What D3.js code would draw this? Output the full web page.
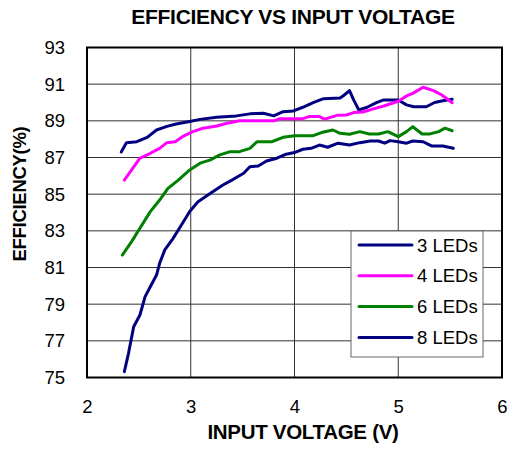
<!DOCTYPE html>
<html lang="en">
<head>
  <meta charset="UTF-8">
  <title>Efficiency vs Input Voltage</title>
  <script src="https://cdn.jsdelivr.net/npm/d3@7"></script>
  <style>
    body { margin: 0; background: #fff; }
    svg { display: block; font-family: "Liberation Sans", Arial, sans-serif; }
  </style>
</head>
<body>
  <div id="chart"></div>
  <script>
    const yTicks = [75, 77, 79, 81, 83, 85, 87, 89, 91, 93]
    const xTicks = [2, 3, 4, 5, 6]
    const seriesNames = ["3 LEDs", "4 LEDs", "6 LEDs", "8 LEDs"]
    const seriesColors = ["#000080", "#ff00ff", "#008000", "#000080"]

    // [voltage, efficiency]
    const led3 = [
      [2.33, 87.3], [2.38, 87.8], [2.48, 87.86], [2.58, 88.1], [2.67, 88.5], [2.77, 88.7],
      [2.86, 88.83], [2.99, 88.96], [3.09, 89.08], [3.25, 89.2], [3.44, 89.27], [3.57, 89.38],
      [3.70, 89.41], [3.80, 89.27], [3.89, 89.5], [3.99, 89.54], [4.08, 89.74], [4.18, 89.99],
      [4.28, 90.21], [4.44, 90.25], [4.48, 90.41], [4.53, 90.65], [4.57, 90.14], [4.62, 89.59],
      [4.70, 89.74], [4.79, 89.99], [4.86, 90.14], [5.0, 90.14], [5.08, 89.87], [5.15, 89.77],
      [5.27, 89.77], [5.35, 90.0], [5.43, 90.1], [5.52, 90.18]
    ]
    const led4 = [
      [2.36, 85.77], [2.43, 86.32], [2.51, 86.96], [2.61, 87.23], [2.70, 87.5], [2.77, 87.81],
      [2.85, 87.86], [2.93, 88.17], [3.02, 88.41], [3.12, 88.6], [3.25, 88.72], [3.35, 88.87],
      [3.47, 89.0], [3.80, 89.0], [3.86, 89.12], [4.08, 89.12], [4.14, 89.23], [4.24, 89.23],
      [4.29, 89.09], [4.41, 89.3], [4.50, 89.32], [4.57, 89.45], [4.66, 89.48], [4.76, 89.65],
      [4.86, 89.81], [5.0, 90.07], [5.08, 90.36], [5.14, 90.5], [5.24, 90.83], [5.34, 90.65],
      [5.42, 90.41], [5.52, 89.99]
    ]
    const led6 = [
      [2.34, 81.68], [2.43, 82.41], [2.51, 83.14], [2.61, 84.05], [2.70, 84.68], [2.78, 85.32],
      [2.88, 85.77], [2.99, 86.32], [3.09, 86.69], [3.19, 86.87], [3.28, 87.14], [3.38, 87.32],
      [3.47, 87.32], [3.57, 87.5], [3.64, 87.86], [3.78, 87.86], [3.89, 88.1], [4.0, 88.19],
      [4.18, 88.19], [4.26, 88.36], [4.37, 88.5], [4.44, 88.32], [4.53, 88.27], [4.63, 88.41],
      [4.72, 88.28], [4.81, 88.28], [4.90, 88.41], [5.0, 88.14], [5.08, 88.41], [5.14, 88.68],
      [5.23, 88.28], [5.30, 88.28], [5.39, 88.41], [5.45, 88.6], [5.52, 88.46]
    ]
    const led8 = [
      [2.36, 75.32], [2.40, 76.32], [2.45, 77.77], [2.51, 78.41], [2.56, 79.41], [2.61, 79.95],
      [2.67, 80.59], [2.70, 81.23], [2.75, 81.96], [2.83, 82.59], [2.91, 83.32], [2.99, 84.05],
      [3.07, 84.59], [3.19, 85.05], [3.31, 85.5], [3.41, 85.81], [3.51, 86.14], [3.57, 86.5],
      [3.65, 86.54], [3.73, 86.81], [3.83, 86.96], [3.92, 87.18], [4.0, 87.27], [4.08, 87.45],
      [4.16, 87.5], [4.24, 87.68], [4.32, 87.56], [4.42, 87.78], [4.53, 87.68], [4.63, 87.81],
      [4.73, 87.9], [4.81, 87.9], [4.87, 87.78], [4.92, 87.92], [5.0, 87.86], [5.08, 87.78],
      [5.14, 87.9], [5.24, 87.86], [5.32, 87.63], [5.43, 87.63], [5.53, 87.5]
    ]
    const allSeries = [led3, led4, led6, led8]

    const width = 509
    const height = 449
    const plotLeft = 87, plotRight = 502, plotTop = 47.5, plotBottom = 377.5

    const svg = d3.select("#chart")
      .append("svg")
      .attr("width", width)
      .attr("height", height)

    const x = d3.scaleLinear().domain([2, 6]).range([plotLeft, plotRight])
    const y = d3.scaleLinear().domain([75, 93]).range([plotBottom, plotTop])

    // grid
    svg.append("g")
      .selectAll("line")
      .data(yTicks.slice(1, -1))
      .enter()
      .append("line")
      .attr("x1", plotLeft).attr("x2", plotRight)
      .attr("y1", d => y(d)).attr("y2", d => y(d))
      .attr("stroke", "#333").attr("stroke-width", 1)

    svg.append("g")
      .selectAll("line")
      .data(xTicks.slice(1, -1))
      .enter()
      .append("line")
      .attr("y1", plotTop).attr("y2", plotBottom)
      .attr("x1", d => x(d)).attr("x2", d => x(d))
      .attr("stroke", "#333").attr("stroke-width", 1)

    svg.append("rect")
      .attr("x", plotLeft).attr("y", plotTop)
      .attr("width", plotRight - plotLeft).attr("height", plotBottom - plotTop)
      .attr("fill", "none").attr("stroke", "#000").attr("stroke-width", 2)

    // axes (labels only)
    const xAxis = d3.axisBottom(x).tickValues(xTicks).tickFormat(d3.format("d")).tickSize(0).tickPadding(22)
    svg.append("g")
      .attr("transform", `translate(0, ${plotBottom})`)
      .call(xAxis)
      .call(g => g.select(".domain").remove())
      .selectAll("text")
      .attr("font-size", 18.5).attr("font-family", "Liberation Sans, Arial, sans-serif").attr("fill", "#000")

    const yAxis = d3.axisLeft(y).tickValues(yTicks).tickSize(0).tickPadding(22)
    svg.append("g")
      .attr("transform", `translate(${plotLeft}, 0)`)
      .call(yAxis)
      .call(g => g.select(".domain").remove())
      .selectAll("text")
      .attr("font-size", 18.5).attr("font-family", "Liberation Sans, Arial, sans-serif").attr("fill", "#000")

    // lines
    const line = d3.line().x(d => x(d[0])).y(d => y(d[1]))
    svg.append("g")
      .selectAll("path")
      .data(allSeries)
      .enter()
      .append("path")
      .attr("d", line)
      .attr("fill", "none")
      .attr("stroke", (_, i) => seriesColors[i])
      .attr("stroke-width", 3)
      .attr("stroke-linejoin", "round")
      .attr("stroke-linecap", "round")

    // titles
    svg.append("text")
      .attr("x", 293).attr("y", 24)
      .attr("text-anchor", "middle")
      .attr("font-weight", "bold").attr("font-size", 21)
      .attr("letter-spacing", -0.3)
      .text("EFFICIENCY VS INPUT VOLTAGE")

    svg.append("text")
      .attr("x", 303).attr("y", 439)
      .attr("text-anchor", "middle")
      .attr("font-weight", "bold").attr("font-size", 20.5)
      .attr("letter-spacing", -0.3)
      .text("INPUT VOLTAGE (V)")

    svg.append("text")
      .attr("transform", "translate(26, 194) rotate(-90)")
      .attr("text-anchor", "middle")
      .attr("font-weight", "bold").attr("font-size", 18.5)
      .attr("letter-spacing", -0.3)
      .text("EFFICIENCY(%)")

    // legend
    const legend = svg.append("g").attr("id", "legend")
    legend.append("rect")
      .attr("x", 351).attr("y", 231)
      .attr("width", 132).attr("height", 126)
      .attr("fill", "#fff").attr("stroke", "#666").attr("stroke-width", 1)

    const items = legend.selectAll("g")
      .data(seriesNames)
      .enter()
      .append("g")
      .attr("transform", (_, i) => `translate(0, ${245 + i * 30.8})`)

    items.append("line")
      .attr("x1", 359).attr("x2", 412)
      .attr("y1", 0).attr("y2", 0)
      .attr("stroke", (_, i) => seriesColors[i])
      .attr("stroke-width", 3)
      .attr("stroke-linecap", "round")

    items.append("text")
      .attr("x", 417).attr("y", 6.5)
      .attr("font-size", 18.5)
      .text(d => d)
  </script>
</body>
</html>
